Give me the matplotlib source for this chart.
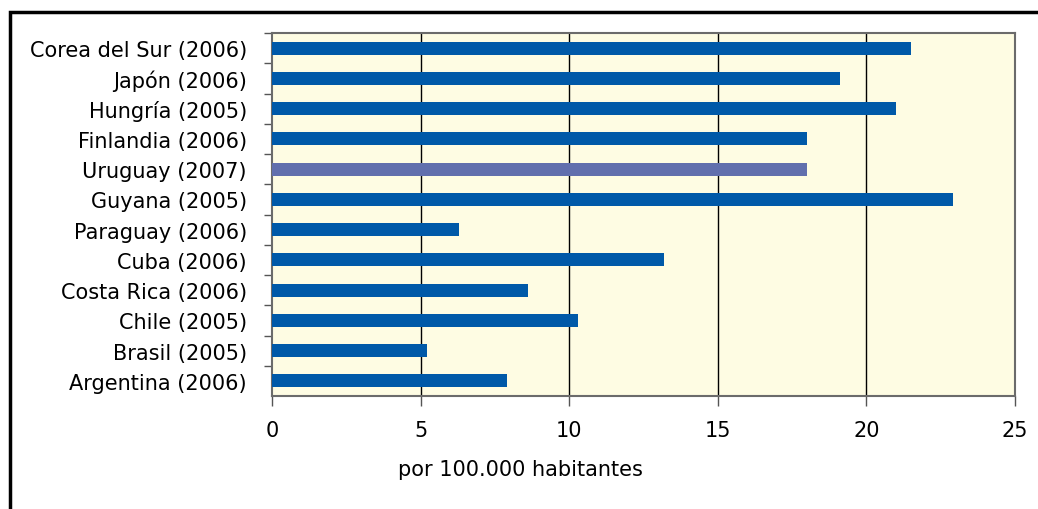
import matplotlib
matplotlib.use("Agg")
import matplotlib.pyplot as plt
from matplotlib.patches import Rectangle

# Tasa de suicidio por país (por 100.000 habitantes)
paises = ["Corea del Sur (2006)", "Japón (2006)", "Hungría (2005)", "Finlandia (2006)",
          "Uruguay (2007)", "Guyana (2005)", "Paraguay (2006)", "Cuba (2006)",
          "Costa Rica (2006)", "Chile (2005)", "Brasil (2005)", "Argentina (2006)"]
tasas = [21.5, 19.1, 21.0, 18.0, 18.0, 22.9, 6.3, 13.2, 8.6, 10.3, 5.2, 7.9]
destacado = "Uruguay (2007)"
x_ticks = [0, 5, 10, 15, 20, 25]

azul = "#0059A8"
azul_claro = "#616FAD"
fondo = "#FEFCE3"

plt.rcParams["font.family"] = ["DejaVu Sans"]

fig = plt.figure(figsize=(10.38, 5.10), dpi=100)
ax = fig.add_axes([272 / 1038, 1 - 397 / 510, (1015 - 272) / 1038, (397 - 34) / 510])
ax.set_facecolor(fondo)

n = len(paises)
pos = list(range(n))[::-1]
colores = [azul_claro if p == destacado else azul for p in paises]
ax.barh(pos, tasas, height=0.43, color=colores, zorder=3)

ax.set_xlim(0, 25)
ax.set_ylim(-0.5, n - 0.5)
ax.set_xticks(x_ticks)
ax.set_xticklabels([str(t) for t in x_ticks], fontsize=15)
ax.set_yticks(pos)
ax.set_yticklabels(paises, fontsize=15)
ax.tick_params(axis="y", length=0, pad=18)
ax.set_yticks([p + 0.5 for p in range(n)], minor=True)
ax.tick_params(axis="y", which="minor", length=6, width=1, color="#555555", direction="out")
ax.tick_params(axis="x", length=7, width=1, color="#555555", direction="out", pad=10)

for t in x_ticks[1:-1]:
    ax.axvline(t, color="black", lw=1, zorder=1)

for side in ["left", "right", "top", "bottom"]:
    ax.spines[side].set_color("#6b6b6b")
    ax.spines[side].set_linewidth(1.5)

fig.text(520 / 1038, 1 - 470 / 510, "por 100.000 habitantes", ha="center", va="center", fontsize=15)

# marco exterior
fig.patches.append(Rectangle((10 / 1038, -0.1), 1.2, 1 - 13 / 510 + 0.1, transform=fig.transFigure,
                             fill=False, edgecolor="black", linewidth=2.5, zorder=0))

fig.savefig("out.png", dpi=100, facecolor="white")
